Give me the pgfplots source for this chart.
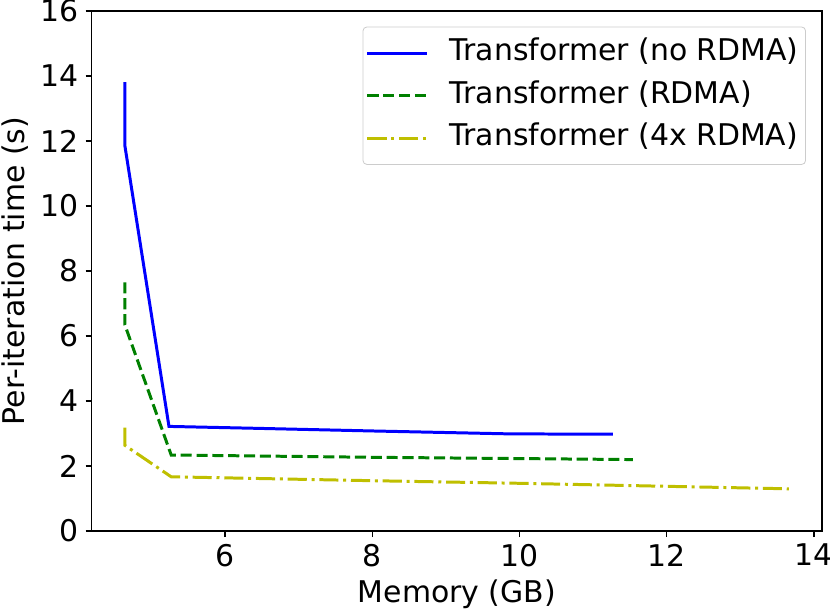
\documentclass[border=0pt]{standalone}
\usepackage{pgfplots}
\pgfplotsset{compat=1.18}
\usepackage{fontspec}
\setmainfont{DejaVu Sans}
\definecolor{mplblue}{RGB}{0,0,255}
\definecolor{mplgreen}{RGB}{0,128,0}
\definecolor{mplyellow}{RGB}{191,191,0}
\begin{document}
\begin{tikzpicture}
\useasboundingbox (-46pt,-41pt) rectangle (370.5pt,266.5pt);
\begin{axis}[
  at={(0,0)}, anchor=south west,
  scale only axis, width=366.5pt, height=261pt,
  xmin=4.19, xmax=14.11, ymin=0, ymax=16,
  xtick={6,8,10,12,14}, ytick={0,2,4,6,8,10,12,14,16},
  xtick pos=left, ytick pos=left,
  tick align=outside, major tick length=3pt,
  tick style={black, line width=0.6pt},
  axis line style={line width=0.8pt},
  font=\fontsize{15}{18}\selectfont,
  /pgf/number format/assume math mode=true,
  xlabel={Memory (GB)}, ylabel={Per-iteration time (s)},
  every axis x label/.style={at={(axis description cs:0.5,-0.1207)}, anchor=center},
  every axis y label/.style={at={(axis description cs:-0.105,0.5)}, rotate=90, anchor=center},
  legend style={at={(0.978,0.970)}, anchor=north east, draw=black!20, rounded corners=2pt,
    inner xsep=1.5pt, inner ysep=4pt, row sep=2.75pt, column sep=8.5pt,
    nodes={inner sep=2pt, text height=11pt, text depth=3.5pt},
    font=\fontsize{15}{18}\selectfont},
  legend cell align=left,
  legend image code/.code={\draw[#1] (0pt,0pt) -- (30pt,0pt);},
]
\addplot[mplblue, line width=1.5pt] coordinates {
 (4.64,13.81) (4.64,11.87) (5.24,3.22) (6.45,3.16) (8.0,3.08) (9.87,2.99) (11.27,2.98)};
\addlegendentry{Transformer (no RDMA)}
\addplot[mplgreen, line width=1.5pt, dash pattern=on 5.55pt off 2.4pt] coordinates {
 (4.64,7.65) (4.64,6.35) (5.27,2.34) (8.0,2.27) (11.54,2.20)};
\addlegendentry{Transformer (RDMA)}
\addplot[mplyellow, line width=1.5pt, dash pattern=on 9.6pt off 2.4pt on 1.5pt off 2.4pt] coordinates {
 (4.64,3.18) (4.64,2.64) (5.27,1.67) (8.0,1.55) (10.0,1.47) (13.66,1.30)};
\addlegendentry{Transformer (4x RDMA)}
\end{axis}
\end{tikzpicture}
\end{document}
